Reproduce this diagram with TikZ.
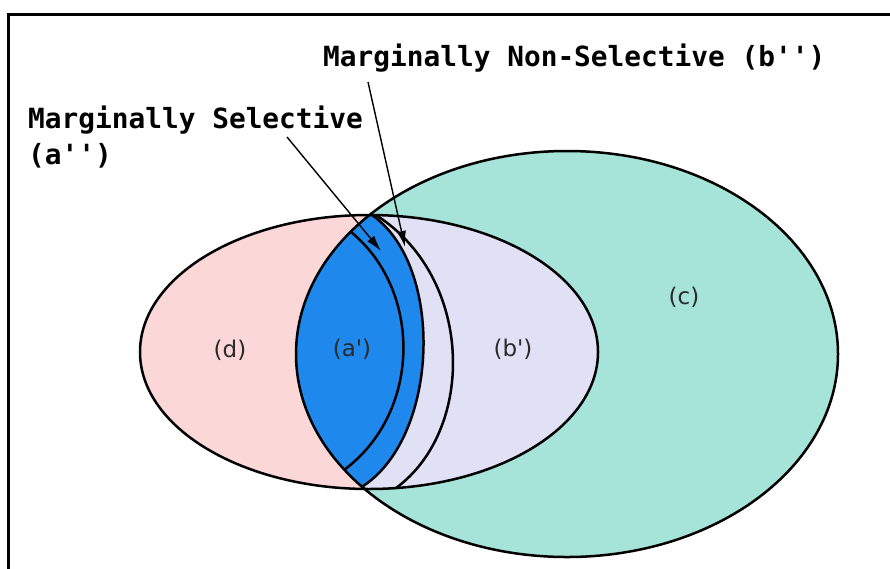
\documentclass[tikz,border=0pt]{standalone}
\usepackage{fontspec}
\usetikzlibrary{arrows.meta}
\newfontfamily\monofnt{DejaVu Sans Mono}
\newfontfamily\lblfnt{DejaVu Sans}
\definecolor{tealc}{HTML}{A6E3D9}
\definecolor{pinkc}{HTML}{FBD7D7}
\definecolor{lavc}{HTML}{E1E1F5}
\definecolor{bluec}{HTML}{1E88EC}
\definecolor{lblc}{HTML}{2A2A2A}
\tikzset{
  outl/.style={line width=2.5pt, black},
  frameline/.style={line width=3pt, black},
  arr/.style={line width=1.4pt, black, -{Latex[length=16pt, width=9pt]}},
  lbl/.style={font=\lblfnt\fontsize{23}{27}\selectfont, text=lblc, inner sep=0pt},
  callout/.style={font=\monofnt\bfseries\fontsize{27.8}{36}\selectfont, text=black, inner sep=0pt, align=left}
}
\begin{document}
\begin{tikzpicture}[x=1pt,y=-1pt]
\useasboundingbox (0,0) rectangle (890,568);
\fill[white] (0,0) rectangle (890,568);
\begin{scope}
\clip (0,0) rectangle (890,568);
\draw[frameline] (8,600) -- (8,14) -- (900,14);
\end{scope}

\def\pinkE{(369,352) ellipse [x radius=229, y radius=137]}
\def\tealE{(567,354) ellipse [x radius=271, y radius=203]}

\fill[tealc] \tealE;
\fill[pinkc] \pinkE;
\begin{scope}
  \clip \pinkE;
  \fill[lavc] \tealE;
  \clip \tealE;
  \fill[bluec] (369,213) .. controls (446,262) and (440,440) .. (360,488) -- (250,488) -- (250,213) -- cycle;
  \draw[outl] (369,213) .. controls (446,262) and (440,440) .. (360,488);
  \draw[outl] (351,232) .. controls (422,290) and (422,412) .. (344,470);
  \draw[outl] (371,212) .. controls (478,275) and (477,440) .. (387,494);
\end{scope}
\draw[outl] \pinkE;
\draw[outl] \tealE;

\node[lbl] (d) at (230,350) {(d)};
\node[lbl] (ap) at (352,349) {(a')};
\node[lbl] (bp) at (513,349) {(b')};
\node[lbl] (c) at (684,297) {(c)};

\node[callout, anchor=north west] (sel) at (28,106) {Marginally Selective\\(a'')};
\node[callout, anchor=base west] (nonsel) at (323,66) {Marginally Non-Selective (b'')};

\coordinate (s1) at (287,137);
\coordinate (t1) at (381,251);
\coordinate (s2) at (368,82);
\coordinate (t2) at (405,247);
\draw[arr] (s1) -- (t1);
\draw[arr] (s2) -- (t2);
\end{tikzpicture}
\end{document}
